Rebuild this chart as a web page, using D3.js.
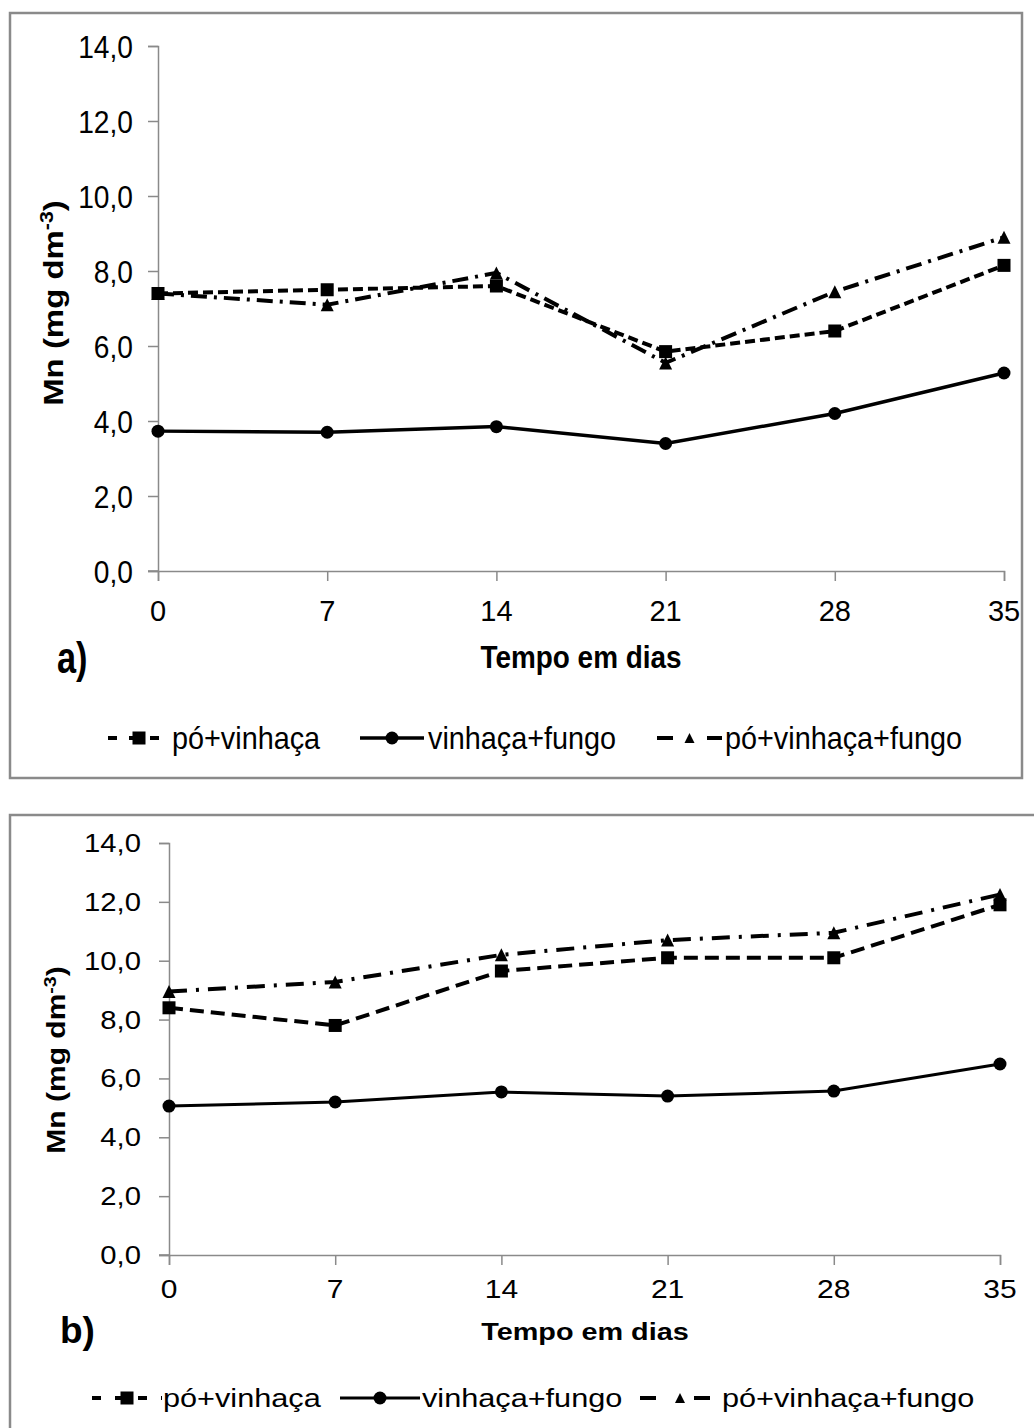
<!DOCTYPE html>
<html>
<head>
<meta charset="utf-8">
<script src="https://cdn.jsdelivr.net/npm/d3@7"></script>
<style>
  body { margin: 0; background: #fff; }
  text { font-family: "Liberation Sans", Arial, sans-serif; fill: #000; }
</style>
</head>
<body>
<svg id="chart" width="1034" height="1428"></svg>
<script>
// days on the x axis
const days = [0, 7, 14, 21, 28, 35];
const yTicks = [0, 2, 4, 6, 8, 10, 12, 14];
const seriesNames = ["pó+vinhaça", "vinhaça+fungo", "pó+vinhaça+fungo"];

// panel a)
const poVinhacaA = [7.4, 7.5, 7.6, 5.85, 6.4, 8.15];
const vinhacaFungoA = [3.73, 3.7, 3.85, 3.4, 4.2, 5.28];
const poVinhacaFungoA = [7.4, 7.1, 7.95, 5.55, 7.45, 8.9];

// panel b)
const poVinhacaB = [8.4, 7.8, 9.65, 10.1, 10.1, 11.9];
const vinhacaFungoB = [5.06, 5.2, 5.54, 5.4, 5.57, 6.49];
const poVinhacaFungoB = [8.95, 9.28, 10.2, 10.7, 10.95, 12.25];

const svg = d3.select("#chart");
const fmt = d => d.toFixed(1).replace(".", ",");

// text with its own stretch (the source image is scaled unevenly)
function label(g, str, x, y, o) {
    const t = g.append("text")
        .attr("transform", `translate(${x},${y})` + (o.rot ? ` rotate(${o.rot})` : "") +
              ` scale(${o.sx || 1},${o.sy || 1})`)
        .attr("text-anchor", o.anchor || "start")
        .style("font-size", o.size + "px")
        .style("font-weight", o.bold ? "bold" : "normal");
    if (o.dy) t.attr("dy", o.dy);
    t.text(str);
    return t;
}

function marker(g, kind, x, y, s) {
    if (kind === "square") {
        g.append("rect").attr("x", x - s / 2).attr("y", y - s / 2)
            .attr("width", s).attr("height", s).attr("fill", "#000");
    } else if (kind === "circle") {
        g.append("circle").attr("cx", x).attr("cy", y).attr("r", s / 2).attr("fill", "#000");
    } else {
        g.append("path")
            .attr("d", `M${x},${y - s / 2}L${x + s / 2},${y + s / 2}L${x - s / 2},${y + s / 2}Z`)
            .attr("fill", "#000");
    }
}

function drawPanel(p) {
    const g = svg.append("g");

    g.append("rect")
        .attr("x", p.frame[0]).attr("y", p.frame[1])
        .attr("width", p.frame[2]).attr("height", p.frame[3])
        .attr("fill", "none").attr("stroke", "#8a8a8a").attr("stroke-width", 2.5);

    const x = d3.scaleLinear().domain([0, 35]).range(p.xRange);
    const y = d3.scaleLinear().domain([0, 14]).range(p.yRange);

    // axes
    const yAxis = g.append("g").attr("transform", `translate(${p.xRange[0]},0)`)
        .call(d3.axisLeft(y).tickValues(yTicks).tickSize(10).tickFormat(""));
    const xAxis = g.append("g").attr("transform", `translate(0,${p.yRange[0]})`)
        .call(d3.axisBottom(x).tickValues(days).tickSize(10).tickFormat(""));
    [yAxis, xAxis].forEach(a => {
        a.select(".domain").attr("stroke", "#8a8a8a").attr("stroke-width", 1.5);
        a.selectAll(".tick line").attr("stroke", "#8a8a8a").attr("stroke-width", 1.5);
    });
    // x axis line reaches the 0,0 tick
    g.append("line")
        .attr("x1", p.xRange[0] - 10).attr("x2", p.xRange[0])
        .attr("y1", p.yRange[0]).attr("y2", p.yRange[0])
        .attr("stroke", "#8a8a8a").attr("stroke-width", 1.5);

    yTicks.forEach(v => label(g, fmt(v), p.yLabelX, y(v), Object.assign({ anchor: "end", dy: "0.36em" }, p.yTickFont)));
    days.forEach(v => label(g, String(v), x(v), p.xLabelY, Object.assign({ anchor: "middle" }, p.xTickFont)));

    label(g, "Tempo em dias", p.xTitle[0], p.xTitle[1], Object.assign({ anchor: "middle", bold: true }, p.xTitleFont));
    label(g, p.tag, p.tagPos[0], p.tagPos[1], Object.assign({ bold: true }, p.tagFont));

    // y title with superscript
    const yt = label(g, "", p.yTitle[0], p.yTitle[1], Object.assign({ anchor: "middle", bold: true, rot: -90 }, p.yTitleFont));
    yt.append("tspan").text("Mn (mg dm");
    yt.append("tspan").attr("dy", -p.yTitleFont.size * 0.38).style("font-size", (p.yTitleFont.size * 0.65) + "px").text("-3");
    yt.append("tspan").attr("dy", p.yTitleFont.size * 0.38).text(")");

    const series = [
        { name: seriesNames[0], values: p.data[0], kind: "square", dash: p.dashSq, width: p.lw[0] },
        { name: seriesNames[1], values: p.data[1], kind: "circle", dash: null, width: p.lw[1] },
        { name: seriesNames[2], values: p.data[2], kind: "triangle", dash: p.dashTri, width: p.lw[2] }
    ];

    const line = d3.line().x((d, i) => x(days[i])).y(d => y(d));

    series.forEach(s => {
        g.append("path")
            .attr("d", line(s.values))
            .attr("fill", "none")
            .attr("stroke", "#000")
            .attr("stroke-width", s.width)
            .attr("stroke-dasharray", s.dash);
        s.values.forEach((v, i) => marker(g, s.kind, x(days[i]), y(v), p.ms));
    });

    // legend
    series.forEach((s, i) => {
        const L = p.legend[i];
        g.append("line")
            .attr("x1", L[0]).attr("x2", L[1])
            .attr("y1", p.legendY).attr("y2", p.legendY)
            .attr("stroke", "#000").attr("stroke-width", s.width)
            .attr("stroke-dasharray", s.kind === "circle" ? null : p.legendDash[i]);
        marker(g, s.kind, (L[0] + L[1]) / 2, p.legendY, s.kind === "triangle" ? p.ms - 3 : p.ms);
        label(g, s.name, L[2], p.legendY, Object.assign({ dy: "0.33em" }, p.legendFont));
    });
}

drawPanel({
    frame: [10, 13, 1012, 765],
    xRange: [158, 1004],
    yRange: [571, 46],
    yLabelX: 133,
    xLabelY: 621,
    yTickFont: { size: 32, sx: 0.88 },
    xTickFont: { size: 29 },
    xTitle: [581, 668],
    xTitleFont: { size: 31, sx: 0.9 },
    tag: "a)",
    tagPos: [57, 673],
    tagFont: { size: 44, sx: 0.78 },
    yTitle: [63, 303],
    yTitleFont: { size: 27, sx: 1.22 },
    data: [poVinhacaA, vinhacaFungoA, poVinhacaFungoA],
    dashSq: "10,5",
    dashTri: "16,7,3,7",
    lw: [4, 3.5, 4],
    ms: 13,
    legendY: 738,
    legend: [[108, 170, 172], [360, 424, 428], [657, 722, 725]],
    legendDash: ["9,12", null, "16,34"],
    legendFont: { size: 32, sx: 0.9 }
});

drawPanel({
    frame: [10, 815, 1040, 640],
    xRange: [169, 1000],
    yRange: [1255, 843],
    yLabelX: 141,
    xLabelY: 1298,
    yTickFont: { size: 25, sx: 1.17 },
    xTickFont: { size: 25, sx: 1.2 },
    xTitle: [585, 1340],
    xTitleFont: { size: 24, sx: 1.2 },
    tag: "b)",
    tagPos: [60, 1343],
    tagFont: { size: 37 },
    yTitle: [65, 1060],
    yTitleFont: { size: 25, sx: 1.2 },
    data: [poVinhacaB, vinhacaFungoB, poVinhacaFungoB],
    dashSq: "14,7",
    dashTri: "18,9,3,9",
    lw: [4, 3, 4],
    ms: 13,
    legendY: 1398,
    legend: [[92, 162, 163], [340, 420, 422], [640, 720, 722]],
    legendDash: ["9,14", null, "16,38"],
    legendFont: { size: 26, sx: 1.18 }
});
</script>
</body>
</html>
